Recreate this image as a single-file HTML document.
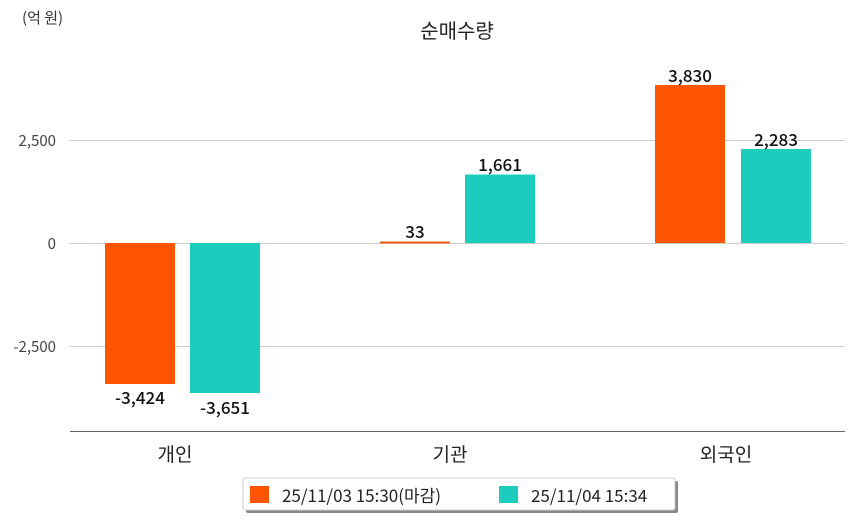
<!DOCTYPE html>
<html><head><meta charset="utf-8"><style>
body{margin:0;background:#fff;}
svg text{font-family:"Noto Sans CJK KR","Liberation Sans",sans-serif;}
</style></head><body>
<svg width="854" height="520" xmlns="http://www.w3.org/2000/svg">
<rect width="854" height="520" fill="#fff"/>
<text x="22" y="23" font-size="15" fill="#333">(억 원)</text>
<text x="457" y="38" font-size="20" fill="#222" text-anchor="middle">순매수량</text>
<g stroke="#ccc" stroke-width="1">
<line x1="70" y1="140.5" x2="845" y2="140.5"/>
<line x1="70" y1="243.5" x2="845" y2="243.5"/>
<line x1="70" y1="346.5" x2="845" y2="346.5"/>
</g>
<line x1="70" y1="431.5" x2="845" y2="431.5" stroke="#666" stroke-width="1"/>
<g font-size="15" fill="#444" text-anchor="end">
<text x="56" y="146">2,500</text>
<text x="56" y="249">0</text>
<text x="56" y="352">-2,500</text>
</g>
<g fill="#ff5400">
<rect x="105" y="243" width="70" height="141"/>
<rect x="380" y="241.6" width="70" height="1.8"/>
<rect x="655" y="85" width="70" height="158"/>
</g>
<g fill="#1ccdbd">
<rect x="190" y="243" width="70" height="150"/>
<rect x="465" y="174.5" width="70" height="68.5"/>
<rect x="741" y="149" width="70" height="94"/>
</g>
<g font-size="17" fill="#111" text-anchor="middle" font-weight="500">
<text x="140" y="404">-3,424</text>
<text x="225" y="414">-3,651</text>
<text x="415" y="238">33</text>
<text x="500" y="171">1,661</text>
<text x="690" y="82">3,830</text>
<text x="776" y="146">2,283</text>
</g>
<g font-size="19" fill="#222" text-anchor="middle">
<text x="175" y="461">개인</text>
<text x="450" y="461">기관</text>
<text x="726" y="461">외국인</text>
</g>
<rect x="246" y="481" width="432" height="32" fill="#888" rx="2"/>
<rect x="243" y="478" width="432" height="32" fill="#fff" stroke="#ccc" rx="2"/>
<rect x="250" y="486" width="19" height="17" fill="#ff5400"/>
<rect x="499" y="486" width="19" height="17" fill="#1ccdbd"/>
<g font-size="17" fill="#222">
<text x="282" y="502">25/11/03 15:30(마감)</text>
<text x="531" y="502">25/11/04 15:34</text>
</g>
</svg>
</body></html>
